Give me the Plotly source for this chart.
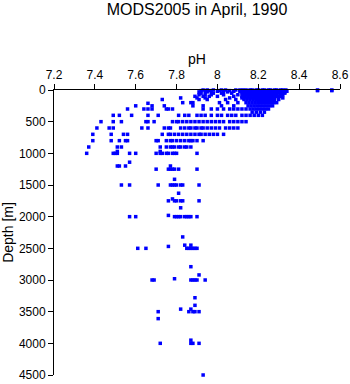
import plotly.graph_objects as go

# Depth levels (m) and pH values observed at each level
depths = [0, 10, 20, 30, 50, 75, 100, 125, 150, 200, 210, 250, 300, 350,
          400, 500, 600, 700, 800, 900, 970, 1000, 1140, 1200, 1250, 1410,
          1500, 1630, 1720, 1750, 1860, 1980, 2000, 2320, 2450, 2470, 2500,
          2790, 2920, 2980, 3000, 3280, 3400, 3460, 3500, 3610, 3950, 4000, 4500]

ph_rows = [
    [7.93, 7.95, 7.98, 8.02, 8.04, 8.09, 8.11, 8.125, 8.14, 8.16, 8.17, 8.19, 8.2, 8.22, 8.23, 8.25, 8.26, 8.28, 8.29, 8.31, 8.32, 8.335, 8.49, 8.56],
    [7.92, 7.96, 8.01, 8.06, 8.12, 8.13, 8.15, 8.165, 8.18, 8.195, 8.21, 8.225, 8.24, 8.255, 8.27, 8.285, 8.3, 8.315, 8.33, 8.49, 8.56],
    [7.94, 7.97, 8.0, 8.03, 8.08, 8.11, 8.13, 8.145, 8.16, 8.175, 8.19, 8.205, 8.22, 8.235, 8.25, 8.265, 8.28, 8.295, 8.31, 8.325, 8.34],
    [7.91, 7.95, 8.05, 8.12, 8.14, 8.155, 8.17, 8.185, 8.2, 8.215, 8.23, 8.245, 8.26, 8.275, 8.29, 8.305, 8.32, 8.33],
    [7.92, 7.98, 8.02, 8.07, 8.12, 8.135, 8.15, 8.165, 8.18, 8.195, 8.21, 8.225, 8.24, 8.255, 8.27, 8.285, 8.3, 8.315, 8.33],
    [7.91, 7.94, 7.97, 8.03, 8.1, 8.125, 8.14, 8.155, 8.17, 8.185, 8.2, 8.215, 8.23, 8.245, 8.26, 8.275, 8.29, 8.31, 8.32],
    [7.89, 7.93, 7.96, 8.0, 8.08, 8.12, 8.135, 8.15, 8.165, 8.18, 8.195, 8.21, 8.225, 8.24, 8.255, 8.27, 8.285, 8.3, 8.315],
    [7.82, 7.9, 7.94, 8.06, 8.12, 8.13, 8.145, 8.16, 8.175, 8.19, 8.205, 8.22, 8.235, 8.25, 8.265, 8.28, 8.32],
    [7.73, 7.91, 7.95, 8.04, 8.09, 8.13, 8.145, 8.16, 8.175, 8.19, 8.205, 8.22, 8.235, 8.25, 8.265, 8.28, 8.3],
    [7.83, 7.87, 7.88, 8.01, 8.05, 8.1, 8.14, 8.155, 8.17, 8.185, 8.2, 8.215, 8.23, 8.245, 8.26, 8.275, 8.29],
    [7.66],
    [7.6, 7.68, 7.74, 7.88, 7.93, 8.02, 8.08, 8.15, 8.165, 8.18, 8.195, 8.21, 8.225, 8.24, 8.255, 8.27],
    [7.56, 7.64, 7.66, 7.68, 7.75, 7.76, 7.78, 7.93, 7.97, 8.0, 8.03, 8.06, 8.08, 8.1, 8.12, 8.14, 8.16, 8.175, 8.19, 8.205, 8.22, 8.235, 8.25],
    [8.17, 8.19, 8.21, 8.23],
    [7.49, 7.52, 7.58, 7.66, 7.71, 7.81, 7.84, 7.86, 7.9, 7.92, 7.94, 7.97, 8.0, 8.02, 8.05, 8.07, 8.09, 8.12, 8.14, 8.16, 8.18, 8.2, 8.22],
    [7.43, 7.49, 7.53, 7.65, 7.66, 7.69, 7.78, 7.8, 7.81, 7.83, 7.85, 7.87, 7.89, 7.91, 7.93, 7.95, 7.97, 7.99, 8.01, 8.03, 8.06, 8.08, 8.1, 8.12, 8.14],
    [7.41, 7.47, 7.49, 7.63, 7.66, 7.74, 7.76, 7.77, 7.82, 7.84, 7.86, 7.87, 7.89, 7.9, 7.92, 7.93, 7.95, 7.97, 7.99, 8.01, 8.04, 8.06, 8.08, 8.1],
    [7.39, 7.48, 7.54, 7.56, 7.73, 7.76, 7.77, 7.79, 7.81, 7.83, 7.85, 7.87, 7.89, 7.91, 7.92, 7.94, 7.96, 7.98, 8.0, 8.03],
    [7.39, 7.48, 7.52, 7.55, 7.56, 7.7, 7.71, 7.75, 7.77, 7.78, 7.8, 7.82, 7.84, 7.86, 7.87, 7.88, 7.9, 7.93],
    [7.37, 7.51, 7.53, 7.72, 7.75, 7.77, 7.78, 7.79, 7.81, 7.82, 7.84, 7.85, 7.87],
    [7.51, 7.72],
    [7.36, 7.49, 7.5, 7.51, 7.57, 7.6, 7.7, 7.72, 7.73, 7.75, 7.76, 7.78, 7.79, 7.8, 7.9],
    [7.57],
    [7.51, 7.52, 7.55, 7.77],
    [7.7, 7.76, 7.77, 7.78, 7.79, 7.81, 7.9],
    [7.79],
    [7.53, 7.57, 7.71, 7.77, 7.78, 7.79, 7.8, 7.82, 7.83, 7.91],
    [7.81],
    [7.78],
    [7.76, 7.79, 7.8, 7.82, 7.83, 7.91],
    [7.82],
    [7.76],
    [7.57, 7.6, 7.79, 7.8, 7.81, 7.82, 7.84, 7.85, 7.86, 7.87, 7.9],
    [7.83],
    [7.84, 7.87],
    [7.76],
    [7.61, 7.65, 7.85, 7.86, 7.87, 7.88, 7.89, 7.9],
    [7.87],
    [7.91],
    [7.79],
    [7.68, 7.69, 7.87, 7.88, 7.89, 7.9, 7.94],
    [7.89],
    [7.89],
    [7.82, 7.87],
    [7.71, 7.86, 7.88, 7.89, 7.91],
    [7.71],
    [7.87],
    [7.72, 7.87, 7.88, 7.91],
    [7.93],
]

x_tick_vals = [7.2, 7.4, 7.6, 7.8, 8.0, 8.2, 8.4, 8.6]
x_tick_text = ["7.2", "7.4", "7.6", "7.8", "8", "8.2", "8.4", "8.6"]
y_tick_vals = [0, 500, 1000, 1500, 2000, 2500, 3000, 3500, 4000, 4500]

ph = []
depth = []
for d, row in zip(depths, ph_rows):
    for v in row:
        ph.append(v)
        depth.append(d)

fig = go.Figure(go.Scatter(
    x=ph, y=depth, mode="markers",
    marker=dict(symbol="square", size=3.5, color="#0000ff", line=dict(width=0)),
    cliponaxis=False,
))

font_family = "Liberation Sans, Arial, sans-serif"
fig.update_layout(
    width=350, height=384,
    margin=dict(l=54, r=10, t=90, b=9),
    plot_bgcolor="white", paper_bgcolor="white",
    showlegend=False,
    font=dict(family=font_family, size=12, color="black"),
    title=dict(text="MODS2005 in April, 1990", x=0.563, xanchor="center",
               y=0.975, yanchor="middle", font=dict(size=16, color="black")),
    xaxis=dict(range=[7.2, 8.6], side="top", showline=True, linecolor="black",
               linewidth=1, ticks="outside", ticklen=5, tickcolor="black",
               tickvals=x_tick_vals, ticktext=x_tick_text, showgrid=False,
               zeroline=False, title=dict(text="pH", standoff=0),
               tickfont=dict(size=12), automargin=False),
    yaxis=dict(range=[4500, 0], showline=True, linecolor="black", linewidth=1,
               ticks="outside", ticklen=5, tickcolor="black",
               tickvals=y_tick_vals, showgrid=False, zeroline=False,
               title=dict(text="Depth [m]", standoff=4),
               tickfont=dict(size=12), automargin=False),
)

fig.write_html("out.html")
